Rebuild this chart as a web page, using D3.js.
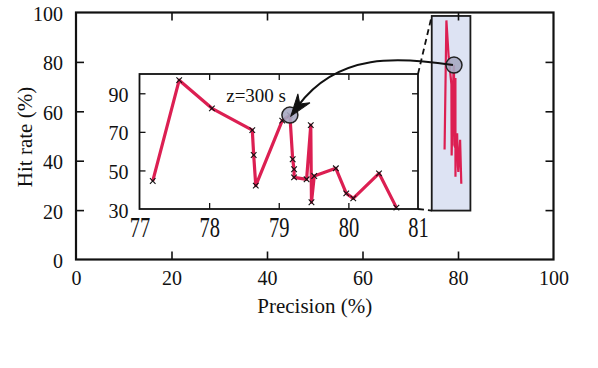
<!DOCTYPE html>
<html>
<head>
<meta charset="utf-8">
<script src="https://cdn.jsdelivr.net/npm/d3@7"></script>
<style>
html,body{margin:0;padding:0;background:#fff;}
svg text{font-family:"Liberation Serif","Times New Roman",serif;fill:#111;}
</style>
</head>
<body>
<svg id="chart" width="598" height="368"></svg>
<script>
// ---- data ----
const precision = [77.19,77.57,78.04,78.62,78.64,78.67,79.05,79.16,79.20,79.22,79.22,79.40,79.46,79.47,79.51,79.82,79.97,80.07,80.44,80.69];
const hitRate   = [44.5,96.8,82.2,70.9,58.0,42.1,75.8,78.7,55.8,50.6,46.4,45.4,73.5,33.5,47.1,51.1,38.1,35.5,48.5,30.7];
const highlightIndex = 7;
const highlightLabel = "z=300 s";
const mainTicks = [0,20,40,60,80,100];
const insetXTicks = [77,78,79,80,81];
const insetYTicks = [30,50,70,90];
const zoomBoxX = [74.5, 82.6];
const zoomBoxY = [19.8, 98.6];
const xTitle = "Precision (%)";
const yTitle = "Hit rate (%)";

const svg = d3.select("#chart");
const red = "#dc1f52";

// ---- main scales ----
const x = d3.scaleLinear().domain([0,100]).range([76,553.5]);
const y = d3.scaleLinear().domain([0,100]).range([259.5,12.5]);

// ---- inset scales ----
const ix = d3.scaleLinear().domain([77,81]).range([139.5,418]);
const iy = d3.scaleLinear().domain([30,100]).range([209,74]);

const pts = precision.map((p,i)=>[p,hitRate[i]]);

// main zoom box
svg.append("rect")
  .attr("x", x(zoomBoxX[0])).attr("y", y(zoomBoxY[1]))
  .attr("width", x(zoomBoxX[1])-x(zoomBoxX[0]))
  .attr("height", y(zoomBoxY[0])-y(zoomBoxY[1]))
  .attr("fill","#dde3f3").attr("stroke","#1a1a1a").attr("stroke-width",1.8);

// main line
svg.append("path").datum(pts)
  .attr("d", d3.line().x(d=>x(d[0])).y(d=>y(d[1])))
  .attr("fill","none").attr("stroke",red).attr("stroke-width",2.2);

// main axes
function styleAxis(g){
  g.select(".domain").remove();
  g.selectAll(".tick line").attr("stroke","#111").attr("stroke-width",1.6);
  g.selectAll("text").attr("font-size",20).attr("fill","#111").attr("font-family",'"Liberation Serif",serif');
}
const inner = mainTicks.slice(1,-1);
svg.append("g").attr("transform",`translate(0,${y(0)})`)
  .call(d3.axisBottom(x).tickValues(mainTicks).tickSize(-8).tickPadding(11))
  .call(styleAxis)
  .call(g=>g.selectAll(".tick").filter(d=>d===0||d===100).select("line").remove());
svg.append("g").attr("transform",`translate(${x(0)},0)`)
  .call(d3.axisLeft(y).tickValues(mainTicks).tickSize(-8).tickPadding(13))
  .call(styleAxis)
  .call(g=>g.selectAll("text").attr("dy","0.4em"))
  .call(g=>g.selectAll(".tick").filter(d=>d===0||d===100).select("line").remove());
svg.append("g").attr("transform",`translate(0,${y(100)})`)
  .call(d3.axisTop(x).tickValues(inner).tickSize(-8).tickFormat(""))
  .call(styleAxis);
svg.append("g").attr("transform",`translate(${x(100)},0)`)
  .call(d3.axisRight(y).tickValues(inner).tickSize(-8).tickFormat(""))
  .call(styleAxis);
// main frame
svg.append("rect").attr("x",x(0)).attr("y",y(100))
  .attr("width",x(100)-x(0)).attr("height",y(0)-y(100))
  .attr("fill","none").attr("stroke","#111").attr("stroke-width",2.2);

// titles
svg.append("text").attr("x",(x(0)+x(100))/2).attr("y",312.5)
  .attr("text-anchor","middle").attr("font-size",21).text(xTitle);
svg.append("text").attr("transform","translate(32,137) rotate(-90)")
  .attr("text-anchor","middle").attr("font-size",21).text(yTitle);

const hp = pts[highlightIndex];

// dashed connectors
svg.append("line").attr("x1",ix(81)).attr("y1",iy(100))
  .attr("x2",x(zoomBoxX[0])).attr("y2",y(zoomBoxY[1]))
  .attr("stroke","#111").attr("stroke-width",1.8).attr("stroke-dasharray","6,4");
svg.append("line").attr("x1",ix(81)).attr("y1",iy(30))
  .attr("x2",x(zoomBoxX[0])).attr("y2",y(zoomBoxY[0]))
  .attr("stroke","#111").attr("stroke-width",1.8).attr("stroke-dasharray","6,4");

// ---- inset ----
svg.append("rect").attr("x",ix(77)).attr("y",iy(100))
  .attr("width",ix(81)-ix(77)).attr("height",iy(30)-iy(100))
  .attr("fill","#fff");
function styleInset(g){
  g.select(".domain").remove();
  g.selectAll(".tick line").attr("stroke","#111").attr("stroke-width",1.3);
  g.selectAll("text").attr("font-size",20).attr("fill","#111").attr("font-family",'"Liberation Serif",serif');
}
const ixInner = insetXTicks.slice(1,-1);
const iyInner = insetYTicks.slice(1);
svg.append("g").attr("transform",`translate(0,${iy(30)})`)
  .call(d3.axisBottom(ix).tickValues(insetXTicks).tickSize(0).tickFormat(d3.format("d")))
  .call(styleInset)
  .call(g=>g.selectAll("text").attr("dy",null).attr("y",null).attr("font-size",20.5)
     .attr("transform","translate(0,27.5) scale(1,1.4)"));
svg.append("g").attr("transform",`translate(0,${iy(30)})`)
  .call(d3.axisBottom(ix).tickValues(ixInner).tickSize(-6).tickFormat(""))
  .call(styleInset);
svg.append("g").attr("transform",`translate(0,${iy(100)})`)
  .call(d3.axisTop(ix).tickValues(ixInner).tickSize(-6).tickFormat(""))
  .call(styleInset);
svg.append("g").attr("transform",`translate(${ix(77)},0)`)
  .call(d3.axisLeft(iy).tickValues(insetYTicks).tickSize(-6).tickPadding(11))
  .call(styleInset)
  .call(g=>g.selectAll("text").attr("dy","0.4em"))
  .call(g=>g.selectAll(".tick").filter(d=>d===30).select("line").remove());
svg.append("g").attr("transform",`translate(${ix(81)},0)`)
  .call(d3.axisRight(iy).tickValues(iyInner).tickSize(-6).tickFormat(""))
  .call(styleInset);
svg.append("rect").attr("x",ix(77)).attr("y",iy(100))
  .attr("width",ix(81)-ix(77)).attr("height",iy(30)-iy(100))
  .attr("fill","none").attr("stroke","#111").attr("stroke-width",1.8);

// inset line
svg.append("path").datum(pts)
  .attr("d", d3.line().x(d=>ix(d[0])).y(d=>iy(d[1])))
  .attr("fill","none").attr("stroke",red).attr("stroke-width",3.2)
  .attr("stroke-linejoin","round");
// markers
const m = 2.8;
svg.append("g").selectAll("path").data(pts).join("path")
  .attr("d", d=>{const cx=ix(d[0]), cy=iy(d[1]);
    return `M${cx-m},${cy-m}L${cx+m},${cy+m}M${cx-m},${cy+m}L${cx+m},${cy-m}`;})
  .attr("stroke","#111").attr("stroke-width",1.1).attr("fill","none");

// highlight circles
svg.append("circle").attr("cx",x(hp[0])).attr("cy",y(hp[1])).attr("r",8)
  .attr("fill","#a6a9c2").attr("fill-opacity",0.9).attr("stroke","#222").attr("stroke-width",1.5);
svg.append("circle").attr("cx",ix(hp[0])).attr("cy",iy(hp[1])).attr("r",8)
  .attr("fill","#a6a9c2").attr("fill-opacity",0.9).attr("stroke","#222").attr("stroke-width",1.5);

// label
svg.append("text").attr("x",286).attr("y",102).attr("text-anchor","end")
  .attr("font-size",19).text(highlightLabel);

// arrow from main point to inset point
const P0=[x(hp[0])-1, y(hp[1])], P1=[400,57], P2=[338,52], P3=[ix(hp[0])+1, iy(hp[1])+1];
svg.append("path")
  .attr("d",`M${P0[0]},${P0[1]}C${P1[0]},${P1[1]} ${P2[0]},${P2[1]} ${P3[0]+7},${P3[1]-10}`)
  .attr("fill","none").attr("stroke","#111").attr("stroke-width",2);
const ang = Math.atan2(P3[1]-P2[1], P3[0]-P2[0])*180/Math.PI;
svg.append("path")
  .attr("d","M0,0L-22,-7.5L-15,0L-22,7.5Z")
  .attr("transform",`translate(${P3[0]},${P3[1]}) rotate(${ang})`)
  .attr("fill","#111").attr("stroke","#111").attr("stroke-width",1);
</script>
</body>
</html>
